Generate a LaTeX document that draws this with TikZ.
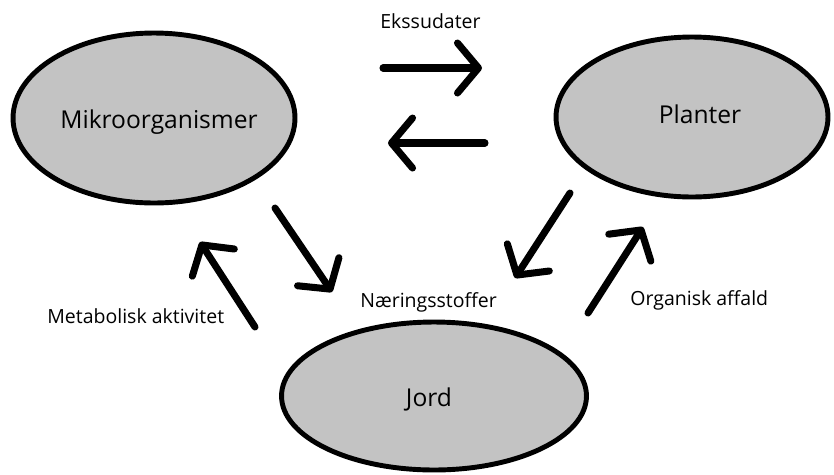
\documentclass[tikz,border=0pt]{standalone}
\usepackage{fontspec}
\setmainfont{Open Sans}
\usetikzlibrary{shapes.geometric,arrows.meta}
\definecolor{blobgray}{RGB}{195,195,195}

\tikzset{
  blob/.style={ellipse, draw=black, fill=blobgray, line width=2.8pt, inner sep=0pt},
  blobtext/.style={inner sep=0pt, anchor=base, font=\fontsize{14}{17}\selectfont},
  flowlabel/.style={inner sep=0pt, anchor=base west, font=\fontsize{11.1}{13}\selectfont},
  flow/.style={line width=4pt, line cap=round, line join=round,
    -{Straight Barb[length=0.42cm, width=1cm, line cap=round, line join=round]}}
}

\begin{document}
\begin{tikzpicture}[x=0.02cm, y=-0.02cm]
    \useasboundingbox (0,0) rectangle (834,474);

    % The three partners
    \node[blob, minimum width=5.64cm, minimum height=3.4cm] (mikro) at (154,118) {};
    \node[blob, minimum width=5.44cm, minimum height=3.2cm] (planter) at (692,117) {};
    \node[blob, minimum width=6.1cm, minimum height=2.96cm] (jord) at (434,396) {};
    \node[blobtext] (mikrotxt) at (159,128) {Mikroorganismer};
    \node[blobtext] (plantertxt) at (700,123) {Planter};
    \node[blobtext] (jordtxt) at (429,406) {Jord};

    % Labels on the flows
    \node[flowlabel] (ekssudater) at (380,28) {Ekssudater};
    \node[flowlabel] (naering) at (360,307) {Næringsstoffer};
    \node[flowlabel] (metabolisk) at (47,323) {Metabolisk aktivitet};
    \node[flowlabel] (organisk) at (630,305) {Organisk affald};

    % Arrow end points
    \coordinate (ex1) at (383,68);
    \coordinate (ex2) at (482,68);
    \coordinate (bk1) at (485,143);
    \coordinate (bk2) at (388,143);
    \coordinate (mj1) at (275,208);
    \coordinate (mj2) at (332,292);
    \coordinate (jm1) at (255,327);
    \coordinate (jm2) at (200,242);
    \coordinate (pj1) at (570,193);
    \coordinate (pj2) at (515,278);
    \coordinate (jp1) at (588,313);
    \coordinate (jp2) at (643,227);

    % Flows
    \draw[flow] (ex1) -- (ex2);
    \draw[flow] (bk1) -- (bk2);
    \draw[flow] (mj1) -- (mj2);
    \draw[flow] (jm1) -- (jm2);
    \draw[flow] (pj1) -- (pj2);
    \draw[flow] (jp1) -- (jp2);
\end{tikzpicture}
\end{document}
